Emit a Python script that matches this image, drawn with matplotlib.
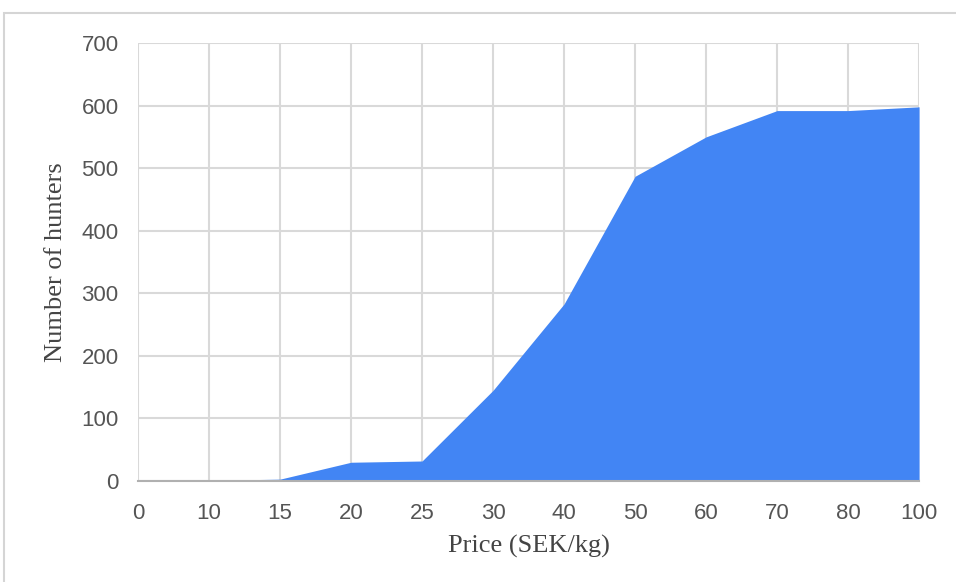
import matplotlib.pyplot as plt
from matplotlib.patches import Rectangle

prices = ['0', '10', '15', '20', '25', '30', '40', '50', '60', '70', '80', '100']
hunters = [0, 1, 3, 30, 32, 145, 283, 487, 550, 592, 592, 598]

fig = plt.figure(figsize=(9.56, 5.82), dpi=100)
ax = fig.add_axes([0.1444, 0.1735, 0.817, 0.7526])

x = list(range(len(prices)))
ax.fill_between(x, hunters, 0, color='#4285f4', linewidth=0, zorder=2)

ax.set_xlim(0, len(prices) - 1)
ax.set_ylim(0, 700)
ax.set_xticks(x)
ax.set_xticklabels(prices)
ax.set_yticks(range(0, 701, 100))

ax.grid(True, color='#d9d9d9', linewidth=1.5, zorder=0)
ax.set_axisbelow(True)
for side in ['top', 'right', 'left']:
    ax.spines[side].set_visible(False)
ax.spines['bottom'].set_color('#b0b0b0')
ax.spines['bottom'].set_linewidth(1.5)
ax.spines['bottom'].set_zorder(3)

ax.tick_params(length=0, labelsize=16, labelcolor='#555555')
ax.tick_params(axis='x', pad=16)
ax.tick_params(axis='y', pad=14)
for lbl in ax.get_xticklabels() + ax.get_yticklabels():
    lbl.set_family('Liberation Sans')

ax.set_xlabel('Price (SEK/kg)', fontsize=19, family='Liberation Serif', color='#444444', labelpad=8)
ax.set_ylabel('Number of hunters', fontsize=19, family='Liberation Serif', color='#444444', labelpad=10)

# light frame around the chart
fig.patches.append(Rectangle((4 / 956, -0.1), 1.2, 1 - 13 / 582 + 0.1, transform=fig.transFigure,
                             fill=False, edgecolor='#d5d5d5', linewidth=1.5))

fig.savefig('out.png', dpi=100)
